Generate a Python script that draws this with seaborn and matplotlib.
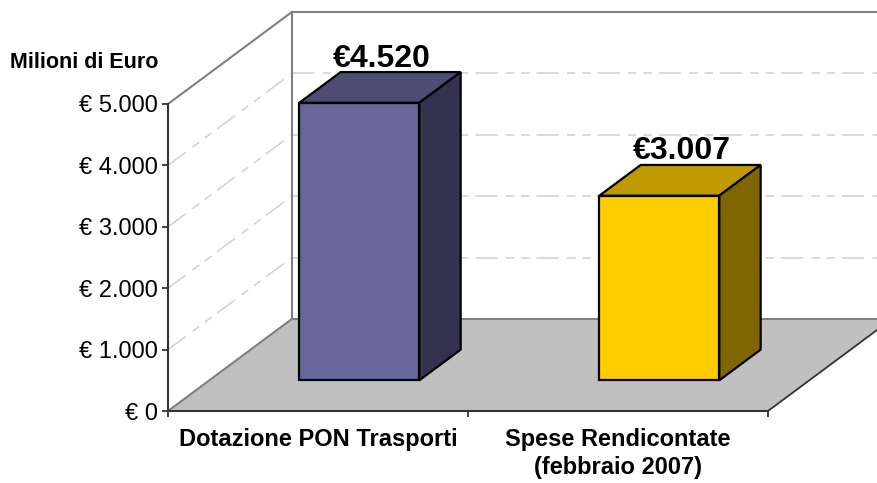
import matplotlib
matplotlib.use("Agg")
import matplotlib.pyplot as plt
from matplotlib.patches import Polygon, Rectangle
import seaborn as sns
import pandas as pd

# ---------------- data ----------------
categories = ["Dotazione PON Trasporti", "Spese Rendicontate\n(febbraio 2007)"]
values = [4520, 3007]
value_labels = ["€4.520", "€3.007"]
y_ticks = [0, 1000, 2000, 3000, 4000, 5000]
y_tick_labels = ["€ 0", "€ 1.000", "€ 2.000", "€ 3.000", "€ 4.000", "€ 5.000"]
y_title = "Milioni di Euro"

# ---------------- styles ----------------
front_colors = ["#666699", "#FFCC00"]
top_colors = ["#4D4D73", "#BF9900"]
side_colors = ["#33334F", "#806600"]
floor_color = "#C0C0C0"
wall_edge = "#808080"
grid_color = "#D0D0D0"
axis_color = "#333333"

sns.set_style("white")
plt.rcParams["font.family"] = ["Liberation Sans", "DejaVu Sans"]
plt.rcParams["lines.scale_dashes"] = False
plt.rcParams["text.color"] = "black"
plt.rcParams["xtick.labelcolor"] = "black"
plt.rcParams["ytick.labelcolor"] = "black"

W, H = 877, 483
fig = plt.figure(figsize=(W / 100, H / 100), dpi=100)
ax = fig.add_axes([168 / W, (H - 411) / H, 600 / W, 307 / H])
ax.patch.set_alpha(0)

ymax = y_ticks[-1]
DX = 124 / 300      # depth offset in category units
DY = 1500           # depth offset in value units
x_lo, x_hi = -0.5, len(categories) - 0.5

df = pd.DataFrame({"cat": categories, "val": values})
sns.barplot(data=df, x="cat", y="val", hue="cat", palette=front_colors,
            saturation=1, width=0.4, legend=False, ax=ax,
            edgecolor="black", linewidth=1.6, zorder=5)
bars = sorted([p for p in ax.patches if isinstance(p, Rectangle) and p.get_height() > 0],
              key=lambda p: p.get_x())

ax.set_xlim(x_lo, x_hi)
ax.set_ylim(0, ymax)

# ---- walls ----
side_wall = Polygon([(x_lo, 0), (x_lo + DX, DY), (x_lo + DX, DY + ymax), (x_lo, ymax)],
                    closed=True, facecolor="white", edgecolor="none", zorder=0.5, clip_on=False)
ax.add_patch(side_wall)
back_wall = Polygon([(x_lo + DX, DY), (x_hi + DX, DY), (x_hi + DX, DY + ymax), (x_lo + DX, DY + ymax)],
                    closed=True, facecolor="white", edgecolor="none", zorder=0.5, clip_on=False)
ax.add_patch(back_wall)

dash = (0, (16, 6, 6, 5, 6, 5))
for v in y_ticks[1:-1]:
    ax.plot([x_lo, x_lo + DX], [v, v + DY], color=grid_color, lw=1.1, ls=dash,
            clip_on=False, zorder=1)
    ax.plot([x_lo + DX, x_hi + DX], [v + DY, v + DY], color=grid_color, lw=1.1, ls=dash,
            clip_on=False, zorder=1)

# wall edges
ax.plot([x_lo, x_lo + DX], [ymax, ymax + DY], color=wall_edge, lw=1.5, clip_on=False, zorder=1.5)
ax.plot([x_lo + DX, x_lo + DX], [DY, DY + ymax], color=wall_edge, lw=1.5, clip_on=False, zorder=1.5)
ax.plot([x_lo + DX, x_hi + DX], [DY + ymax, DY + ymax], color=wall_edge, lw=1.5, clip_on=False, zorder=1.5)

# ---- floor ----
floor = Polygon([(x_lo, 0), (x_lo + DX, DY), (x_hi + DX, DY), (x_hi, 0)],
                closed=True, facecolor=floor_color, edgecolor="none", zorder=2, clip_on=False)
ax.add_patch(floor)
ax.plot([x_lo, x_lo + DX], [0, DY], color=wall_edge, lw=1.5, clip_on=False, zorder=2.1)
ax.plot([x_lo + DX, x_hi + DX], [DY, DY], color=wall_edge, lw=1.5, clip_on=False, zorder=2.1)
ax.plot([x_hi, x_hi + DX], [0, DY], color=axis_color, lw=1.3, clip_on=False, zorder=2.1)

# ---- 3D bars ----
s, t = DX / 3, DY / 3      # shift of bar front face into the depth
d, e = DX / 3, DY / 3      # bar depth
for i, p in enumerate(bars):
    x0, w, h = p.get_x(), p.get_width(), p.get_height()
    p.set_x(x0 + s)
    p.set_y(t)
    p.set_clip_on(False)
    top = Polygon([(x0 + s, h + t), (x0 + w + s, h + t), (x0 + w + s + d, h + t + e),
                   (x0 + s + d, h + t + e)], closed=True, facecolor=top_colors[i],
                  edgecolor="black", lw=1.6, zorder=5, clip_on=False, joinstyle="miter")
    side = Polygon([(x0 + w + s, t), (x0 + w + s, h + t), (x0 + w + s + d, h + t + e),
                    (x0 + w + s + d, t + e)], closed=True, facecolor=side_colors[i],
                   edgecolor="black", lw=1.6, zorder=5, clip_on=False, joinstyle="miter")
    ax.add_patch(top)
    ax.add_patch(side)
    ax.annotate(value_labels[i], xy=(x0 + w / 2 + s + d / 2, h + t + e),
                xytext=(1, 4), textcoords="offset points", ha="center", va="baseline",
                fontsize=23, fontweight="bold", color="black", zorder=6, annotation_clip=False)

# ---- axes ----
for side_name in ["top", "right"]:
    ax.spines[side_name].set_visible(False)
for side_name in ["left", "bottom"]:
    ax.spines[side_name].set_color(axis_color)
    ax.spines[side_name].set_linewidth(1.5)
    ax.spines[side_name].set_zorder(3)

ax.set_yticks(y_ticks)
ax.set_yticklabels(y_tick_labels, fontsize=17, color="black")
ax.tick_params(axis="y", which="major", direction="out", length=4, width=1.3,
               color=axis_color, pad=3, left=True)

ax.set_xticks(range(len(categories)))
ax.set_xticklabels(categories, fontsize=17, fontweight="bold", color="black",
                   linespacing=1.25)
ax.set_xticks([x_lo + k for k in range(len(categories) + 1)], minor=True)
ax.tick_params(axis="x", which="major", length=0, pad=12.5)
ax.tick_params(axis="x", which="minor", direction="out", length=4.5, width=1.3,
               color=axis_color, bottom=True)
ax.set_xlabel("")
ax.set_ylabel("")

fig.text(10 / W, 1 - 68 / H, y_title, ha="left", va="baseline",
         fontsize=15.5, fontweight="bold", color="black")

fig.savefig("out.png", dpi=100, facecolor="white")
